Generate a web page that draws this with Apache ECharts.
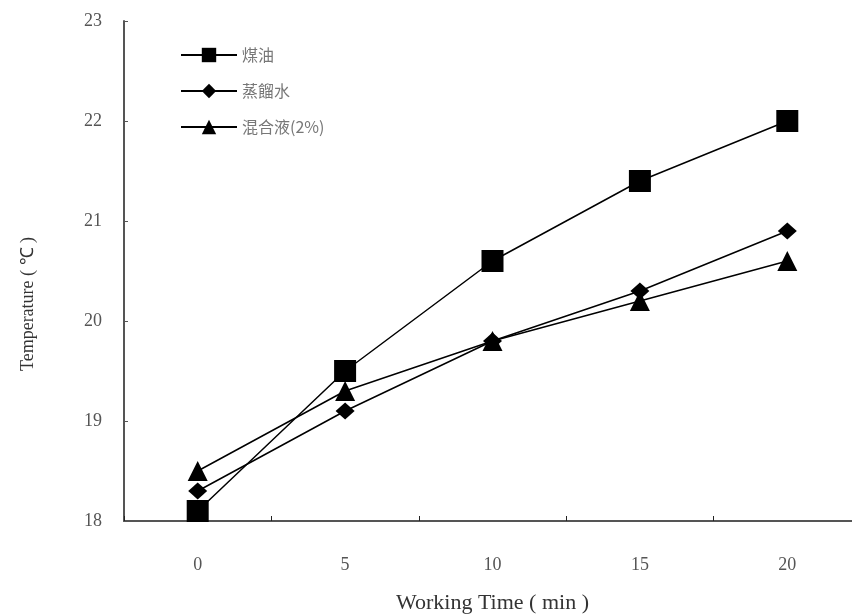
<!DOCTYPE html>
<html>
<head>
<meta charset="utf-8">
<script src="https://cdn.jsdelivr.net/npm/echarts@6/dist/echarts.min.js"></script>
<style>html,body{margin:0;padding:0;background:#fff}#c{width:852px;height:616px}</style>
</head>
<body>
<div id="c"></div>
<script>
const categories = ['0', '5', '10', '15', '20'];
const seriesNames = ['煤油', '蒸餾水', '混合液(2%)'];
const kerosene = [18.1, 19.5, 20.6, 21.4, 22.0];
const water = [18.3, 19.1, 19.8, 20.3, 20.9];
const mixture = [18.5, 19.3, 19.8, 20.2, 20.6];
const yTicks = [18, 19, 20, 21, 22, 23];

const chart = echarts.init(document.getElementById('c'), null, {renderer: 'canvas'});
const serif = 'Liberation Serif, Times New Roman, serif';
const cjk = '"Noto Sans CJK TC", "Noto Sans CJK SC", sans-serif';
function mk(name, data, symbol, size) {
  return {
    name: name, type: 'line', data: data, symbol: symbol, symbolSize: size,
    lineStyle: {color: '#000', width: 1.5},
    itemStyle: {color: '#000'},
    animation: false
  };
}
chart.setOption({
  backgroundColor: '#fff',
  animation: false,
  grid: {left: 124, top: 21, height: 500, width: 737, outerBoundsMode: 'none', containLabel: false},
  legend: {
    orient: 'vertical', left: 175, top: 42, itemWidth: 56, itemHeight: 18, itemGap: 20,
    textStyle: {color: '#777', fontSize: 16, fontFamily: cjk},
    data: seriesNames.map(n => ({name: n}))
  },
  xAxis: {
    type: 'category', data: categories, boundaryGap: true,
    axisLine: {lineStyle: {color: '#555', width: 2}},
    axisTick: {show: true, inside: true, length: 5, interval: 0, lineStyle: {color: '#222', width: 1}},
    axisLabel: {color: '#555', fontSize: 18, fontFamily: serif, margin: 35},
    name: 'Working Time ( min )', nameLocation: 'middle', nameGap: 71,
    nameTextStyle: {color: '#333', fontSize: 22, fontFamily: serif}
  },
  yAxis: {
    type: 'value', min: yTicks[0], max: yTicks[yTicks.length - 1], interval: 1,
    splitLine: {show: false},
    axisLine: {show: true, lineStyle: {color: '#555', width: 2}},
    axisTick: {show: true, inside: true, length: 4, lineStyle: {color: '#555'}},
    axisLabel: {color: '#555', fontSize: 18, fontFamily: serif, margin: 22},
    name: 'Temperature ( ℃ )', nameLocation: 'middle', nameGap: 87, nameRotate: 90,
    nameTextStyle: {color: '#333', fontSize: 18, fontFamily: serif, padding: [0, 66, 0, 0]}
  },
  series: [
    mk(seriesNames[0], kerosene, 'rect', 22),
    mk(seriesNames[1], water, 'diamond', [19, 17]),
    mk(seriesNames[2], mixture, 'triangle', 20)
  ]
});
</script>
</body>
</html>
